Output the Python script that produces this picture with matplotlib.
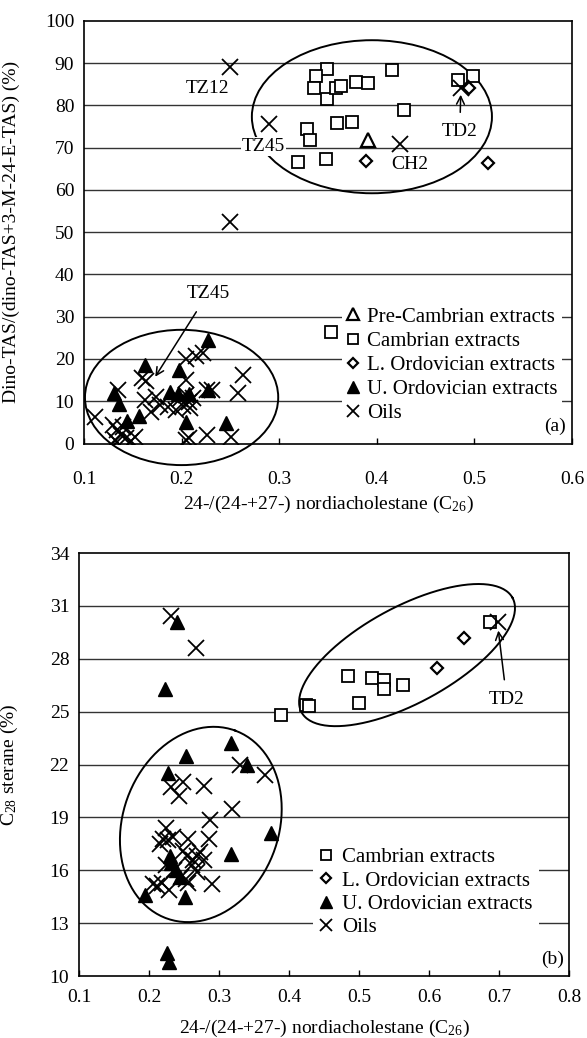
import matplotlib
matplotlib.use("Agg")
import matplotlib.pyplot as plt
from matplotlib.patches import Ellipse
import numpy as np

plt.rcParams['font.family'] = ['Liberation Serif', 'DejaVu Serif']
plt.rcParams['mathtext.fontset'] = 'custom'
plt.rcParams['mathtext.rm'] = 'Liberation Serif'
plt.rcParams['mathtext.it'] = 'Liberation Serif:italic'

# ---- panel (a) data ----
pre_cam_a_x = [0.391]
pre_cam_a_y = [71.8]
cam_a_x = [0.349, 0.338, 0.336, 0.349, 0.358, 0.363, 0.379, 0.391, 0.416, 0.483,
           0.499, 0.428, 0.328, 0.332, 0.359, 0.375, 0.319, 0.348, 0.353]
cam_a_y = [88.6, 86.9, 84.2, 81.5, 84.2, 84.6, 85.6, 85.3, 88.3, 86.0,
           86.9, 78.9, 74.5, 71.9, 75.7, 76.1, 66.7, 67.4, 26.3]
lord_a_x = [0.389, 0.494, 0.514]
lord_a_y = [66.9, 84.0, 66.3]
uord_a_x = [0.227, 0.163, 0.197, 0.131, 0.136, 0.144, 0.156, 0.188, 0.196, 0.208,
            0.227, 0.205, 0.245]
uord_a_y = [24.6, 18.6, 17.5, 11.9, 9.3, 5.4, 6.5, 12.3, 11.6, 11.8,
            12.6, 5.2, 4.9]
oils_a_x = [0.250, 0.290, 0.424, 0.486, 0.250,
            0.205, 0.215, 0.222, 0.159, 0.164, 0.263, 0.135, 0.205, 0.226, 0.231,
            0.258, 0.1625, 0.174, 0.186, 0.169, 0.178, 0.198, 0.205, 0.208, 0.201,
            0.194, 0.212, 0.209, 0.111, 0.130, 0.134, 0.138, 0.132, 0.143, 0.148,
            0.152, 0.134, 0.140, 0.205, 0.208, 0.226, 0.251]
oils_a_y = [89.0, 75.6, 70.8, 84.2, 52.5,
            20.0, 20.8, 21.4, 15.5, 14.8, 16.3, 12.6, 15.0, 12.6, 12.6,
            11.9, 10.3, 11.0, 8.7, 7.5, 9.1, 10.5, 11.5, 9.8, 8.8,
            8.0, 10.8, 8.5, 6.3, 4.5, 3.2, 2.0, 0.9, 1.2, 0.5,
            1.5, 0.4, 4.0, 0.9, 1.3, 2.1, 1.6]

# ---- panel (b) data ----
cam_b_x = [0.389, 0.424, 0.429, 0.484, 0.500, 0.518, 0.536, 0.536, 0.563, 0.687]
cam_b_y = [24.8, 25.4, 25.3, 27.0, 25.5, 26.9, 26.8, 26.3, 26.5, 30.1]
lord_b_x = [0.611, 0.650]
lord_b_y = [27.5, 29.2]
uord_b_x = [0.223, 0.317, 0.253, 0.340, 0.227, 0.374, 0.230, 0.317, 0.232, 0.238,
            0.244, 0.194, 0.251, 0.226, 0.228, 0.240]
uord_b_y = [26.3, 23.2, 22.5, 22.0, 21.5, 18.1, 16.8, 16.9, 16.4, 16.0,
            15.6, 14.6, 14.5, 11.3, 10.8, 30.1]
oils_b_x = [0.232, 0.267, 0.330, 0.365, 0.249, 0.231, 0.278, 0.243, 0.318, 0.287,
            0.224, 0.220, 0.227, 0.234, 0.256, 0.285, 0.216, 0.273, 0.268, 0.263,
            0.249, 0.254, 0.224, 0.236, 0.245, 0.255, 0.261, 0.268, 0.278, 0.206,
            0.212, 0.218, 0.228, 0.253, 0.290, 0.699]
oils_b_y = [30.4, 28.6, 22.0, 21.4, 21.0, 20.7, 20.8, 20.2, 19.5, 18.85,
            18.4, 17.8, 17.7, 17.9, 17.75, 17.8, 17.5, 17.05, 16.8, 16.6,
            17.1, 16.8, 16.3, 16.0, 15.6, 15.3, 16.3, 15.9, 16.6, 15.2,
            15.1, 15.3, 14.9, 15.5, 15.2, 30.1]

xticks_a = [0.1, 0.2, 0.3, 0.4, 0.5, 0.6]
yticks_a = [0, 10, 20, 30, 40, 50, 60, 70, 80, 90, 100]
xticks_b = [0.1, 0.2, 0.3, 0.4, 0.5, 0.6, 0.7, 0.8]
yticks_b = [10, 13, 16, 19, 22, 25, 28, 31, 34]

xlab = r'24-/(24-+27-) nordiacholestane (C$_{26}$)'

fig = plt.figure(figsize=(5.87, 10.38), dpi=100)
ax1 = fig.add_axes([0.1431, 0.5727, 0.8313, 0.4073])
ax2 = fig.add_axes([0.1346, 0.0597, 0.8348, 0.4075])

mk = dict(linestyle='none', color='black')

def style(ax, xt, yt, xpad):
    ax.set_xlim(xt[0], xt[-1])
    ax.set_ylim(yt[0], yt[-1])
    ax.set_xticks(xt)
    ax.set_yticks(yt)
    ax.set_xticklabels(['%.1f' % v for v in xt])
    ax.set_yticklabels(['%d' % v for v in yt])
    for y in yt[1:-1]:
        ax.axhline(y, color='#333333', lw=1.0, zorder=0)
    for s in ax.spines.values():
        s.set_linewidth(1.2)
    ax.tick_params(axis='x', direction='in', length=4, width=1, labelsize=14, pad=xpad)
    ax.tick_params(axis='y', direction='in', length=0, labelsize=14, pad=7)

# ---- panel (a) ----
style(ax1, xticks_a, yticks_a, 20)
ax1.add_patch(Ellipse((0.395, 77.3), 0.246, 36.2, fill=False, lw=1.4, color='black', zorder=2))
ax1.add_patch(Ellipse((0.2, 10.9), 0.198, 32.0, fill=False, lw=1.4, color='black',
                      zorder=2, clip_on=False))
ax1.plot(pre_cam_a_x, pre_cam_a_y, marker='^', ms=10, mfc='white', mew=1.6,
         label='Pre-Cambrian extracts', **mk)
ax1.plot(cam_a_x, cam_a_y, marker='s', ms=8.5, mfc='white', mew=1.3,
         label='Cambrian extracts', **mk)
ax1.plot(lord_a_x, lord_a_y, marker='D', ms=6.5, mfc='white', mew=1.6,
         label='L. Ordovician extracts', **mk)
ax1.plot(uord_a_x, uord_a_y, marker='^', ms=10, mfc='black',
         label='U. Ordovician extracts', **mk)
ax1.plot(oils_a_x, oils_a_y, marker='x', ms=11, mew=1.3, label='Oils', **mk)

ax1.text(0.227, 84.0, 'TZ12', fontsize=14, ha='center', va='center')
ax1.text(0.284, 70.2, 'TZ45', fontsize=14, ha='center', va='center',
         bbox=dict(facecolor='white', edgecolor='none', pad=0.5))
ax1.text(0.434, 65.9, 'CH2', fontsize=14, ha='center', va='center')
ax1.annotate('TD2', xy=(0.486, 82.5), xytext=(0.485, 73.7), fontsize=14,
             ha='center', va='center',
             arrowprops=dict(arrowstyle='->', lw=1.1, color='black', shrinkA=6, shrinkB=0))
ax1.annotate('TZ45', xy=(0.173, 15.8), xytext=(0.227, 35.5), fontsize=14,
             ha='center', va='center',
             arrowprops=dict(arrowstyle='->', lw=1.1, color='black', shrinkA=6, shrinkB=0))
ax1.text(0.988, 0.02, '(a)', transform=ax1.transAxes, fontsize=14, ha='right',
         va='bottom', zorder=10)

leg1 = ax1.legend(loc='upper left', bbox_to_anchor=(0.528, 0.335), fontsize=15,
                  frameon=True, fancybox=False, edgecolor='none', framealpha=1,
                  handlelength=0.6, handletextpad=0.35, labelspacing=0.22,
                  borderpad=0.25, borderaxespad=0, markerscale=0.8)
ax1.set_xlabel(xlab, fontsize=14)
ax1.set_ylabel('Dino-TAS/(dino-TAS+3-M-24-E-TAS) (%)', fontsize=14)
ax1.xaxis.set_label_coords(0.5, -0.118)
ax1.yaxis.set_label_coords(-0.131, 0.5)

# ---- panel (b) ----
style(ax2, xticks_b, yticks_b, 9)

def tilted(ax, c, u, v):
    t = np.linspace(0, 2 * np.pi, 200)
    ax.plot(c[0] + u[0] * np.cos(t) + v[0] * np.sin(t),
            c[1] + u[1] * np.cos(t) + v[1] * np.sin(t),
            color='black', lw=1.4, zorder=2)

tilted(ax2, (0.274, 18.6), (0.0489, 5.33), (0.1047, -1.515))
tilted(ax2, (0.5686, 28.21), (0.1507, 3.246), (0.0327, -2.394))

ax2.plot(cam_b_x, cam_b_y, marker='s', ms=8.5, mfc='white', mew=1.3,
         label='Cambrian extracts', **mk)
ax2.plot(lord_b_x, lord_b_y, marker='D', ms=6.5, mfc='white', mew=1.6,
         label='L. Ordovician extracts', **mk)
ax2.plot(uord_b_x, uord_b_y, marker='^', ms=10, mfc='black',
         label='U. Ordovician extracts', **mk)
ax2.plot(oils_b_x, oils_b_y, marker='x', ms=11, mew=1.3, label='Oils', **mk)

ax2.annotate('TD2', xy=(0.699, 29.6), xytext=(0.711, 25.7), fontsize=14,
             ha='center', va='center',
             arrowprops=dict(arrowstyle='->', lw=1.1, color='black', shrinkA=6, shrinkB=0))
ax2.text(0.99, 0.02, '(b)', transform=ax2.transAxes, fontsize=14, ha='right',
         va='bottom', zorder=10)

leg2 = ax2.legend(loc='upper left', bbox_to_anchor=(0.478, 0.318), fontsize=15,
                  frameon=True, fancybox=False, edgecolor='none', framealpha=1,
                  handlelength=0.6, handletextpad=0.5, labelspacing=0.18,
                  borderpad=0.3, borderaxespad=0, markerscale=0.8)
ax2.set_xlabel(xlab, fontsize=14)
ax2.set_ylabel(r'C$_{28}$ sterane (%)', fontsize=14)
ax2.xaxis.set_label_coords(0.5, -0.1)
ax2.yaxis.set_label_coords(-0.12, 0.5)

fig.savefig('out.png', dpi=100)
